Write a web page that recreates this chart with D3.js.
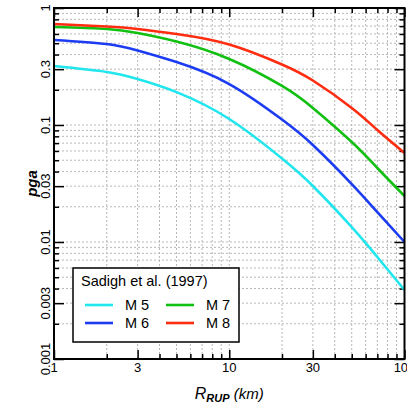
<!DOCTYPE html>
<html>
  <head>
    <meta charset="utf-8">
    <title>Sadigh et al. (1997)</title>
    <script src="https://d3js.org/d3.v7.min.js"></script>
    <style>
      body { margin: 0; background: #fff; }
      svg { font-family: "Liberation Sans", Arial, sans-serif; }
      .grid line { stroke: #b8b8b8; stroke-width: 1; stroke-dasharray: 2,2; }
      .tick line { stroke: #000; stroke-width: 1.5; }
      .curve { fill: none; stroke-width: 2.6; stroke-linejoin: round; }
    </style>
  </head>
  <body>
    <svg id="chart" width="407" height="409"></svg>
    <script>
      // distances (km) and pga values
      distances = [1, 2, 3, 5, 10, 20, 30, 50, 70, 100];
      pgaM5 = [0.319, 0.284, 0.247, 0.191, 0.1125, 0.0517, 0.0301, 0.0134, 0.00744, 0.00389];
      pgaM6 = [0.533, 0.492, 0.433, 0.345, 0.224, 0.1114, 0.0675, 0.0313, 0.0180, 0.0100];
      pgaM7 = [0.688, 0.662, 0.611, 0.517, 0.367, 0.216, 0.140, 0.0716, 0.0429, 0.0247];
      pgaM8 = [0.730, 0.695, 0.662, 0.600, 0.488, 0.329, 0.240, 0.140, 0.0906, 0.0577];
      seriesNames = ["M 5", "M 6", "M 7", "M 8"];
      seriesColors = ["#22e6ee", "#1c3cf2", "#12c012", "#ff2c10"];
      xMajor = [1, 3, 10, 30, 100];
      xMajorLabels = ["1", "3", "10", "30", "100"];
      yMajor = [1, 0.3, 0.1, 0.03, 0.01, 0.003, 0.001];
      yMajorLabels = ["1", "0.3", "0.1", "0.03", "0.01", "0.003", "0.001"];
      legendTitle = "Sadigh et al. (1997)";

      chart = d3.select("#chart");
      margin = { top: 8, right: 2, bottom: 50, left: 54 };
      width = 407; height = 409;

      x = d3.scaleLog().domain([1, 100]).range([margin.left, width - margin.right - 0.5]);
      y = d3.scaleLog().domain([0.001, 1]).range([height - margin.bottom, margin.top]);

      // all 1..9 per decade
      xMinor = d3.range(0, 2).flatMap(function(e) {
        return d3.range(1, 10).map(function(k) { return k * Math.pow(10, e); });
      }).filter(function(v) { return xMajor.indexOf(v) < 0; });
      yAll = d3.range(-3, 0).flatMap(function(e) {
        return d3.range(1, 10).map(function(k) { return +(k * Math.pow(10, e)).toPrecision(3); });
      });
      yMinor = yAll.filter(function(v) { return yMajor.indexOf(v) < 0; });

      // grid
      grid = chart.append("g").attr("class", "grid");
      grid.selectAll(".gx").data(xMinor.concat([3, 10, 30]))
        .enter().append("line")
          .attr("x1", function(d) { return x(d); }).attr("x2", function(d) { return x(d); })
          .attr("y1", y(1)).attr("y2", y(0.001));
      grid.selectAll(".gy").data(yAll.filter(function(v) { return v > 0.001; }))
        .enter().append("line")
          .attr("y1", function(d) { return y(d); }).attr("y2", function(d) { return y(d); })
          .attr("x1", x(1)).attr("x2", x(100));

      plotH = y(0.001) - y(1);
      plotW = x(100) - x(1);

      // inward ticks on every side
      function ticks(axis, values, size, tx, ty) {
        g = chart.append("g")
          .attr("transform", "translate(" + tx + "," + ty + ")")
          .call(axis.tickValues(values).tickSize(size).tickFormat(""));
        g.select(".domain").remove();
        return g;
      }
      ticks(d3.axisBottom(x), xMajor, -9, 0, y(0.001));
      ticks(d3.axisBottom(x), xMinor, -5, 0, y(0.001));
      ticks(d3.axisTop(x), xMajor, -9, 0, y(1));
      ticks(d3.axisTop(x), xMinor, -5, 0, y(1));
      ticks(d3.axisLeft(y), yMajor, -10, x(1), 0);
      ticks(d3.axisLeft(y), yMinor, -5, x(1), 0);
      ticks(d3.axisRight(y), yMajor, -10, x(100), 0);
      ticks(d3.axisRight(y), yMinor, -5, x(100), 0);

      // curves
      line = d3.line()
        .x(function(d) { return x(d[0]); })
        .y(function(d) { return y(d[1]); })
        .curve(d3.curveNatural);
      [pgaM5, pgaM6, pgaM7, pgaM8].forEach(function(vals, i) {
        chart.append("path")
          .attr("class", "curve")
          .attr("stroke", seriesColors[i])
          .attr("d", line(distances.map(function(r, j) { return [r, vals[j]]; })));
      });

      // frame
      chart.append("rect")
        .attr("x", x(1)).attr("y", y(1))
        .attr("width", plotW).attr("height", plotH)
        .attr("fill", "none").attr("stroke", "#000").attr("stroke-width", 2);

      // tick labels
      chart.selectAll(".xl").data(xMajor)
        .enter().append("text")
          .attr("x", function(d) { return x(d); })
          .attr("y", 372)
          .attr("text-anchor", "middle")
          .attr("font-size", 13)
          .text(function(d, i) { return xMajorLabels[i]; });
      chart.selectAll(".yl").data(yMajor)
        .enter().append("text")
          .attr("transform", function(d) { return "translate(50," + y(d) + ") rotate(-90)"; })
          .attr("text-anchor", "middle")
          .attr("font-size", 13)
          .text(function(d, i) { return yMajorLabels[i]; });

      // axis titles
      chart.append("text")
        .attr("transform", "translate(37," + (y(1) + plotH / 2) + ") rotate(-90)")
        .attr("text-anchor", "middle")
        .attr("font-size", 15)
        .attr("font-weight", "bold")
        .attr("font-style", "italic")
        .text("pga");
      xt = chart.append("text")
        .attr("x", x(1) + plotW / 2)
        .attr("y", 399)
        .attr("text-anchor", "middle")
        .attr("font-size", 15)
        .attr("font-style", "italic");
      xt.append("tspan").attr("font-size", 16).text("R");
      xt.append("tspan").attr("font-size", 11).attr("font-weight", "bold").attr("dy", 3).text("RUP");
      xt.append("tspan").attr("dy", -3).text(" (km)");

      // legend
      legend = chart.append("g").attr("transform", "translate(73,268)");
      legend.append("rect")
        .attr("width", 166).attr("height", 74)
        .attr("fill", "#fff").attr("stroke", "#000").attr("stroke-width", 1.5);
      legend.append("text")
        .attr("x", 8).attr("y", 18)
        .attr("font-size", 14.5)
        .text(legendTitle);
      seriesNames.forEach(function(name, i) {
        col = Math.floor(i / 2); row = i % 2;
        item = legend.append("g")
          .attr("transform", "translate(" + (12 + col * 81) + "," + (37 + row * 18) + ")");
        item.append("line")
          .attr("x1", 0).attr("x2", 28)
          .attr("stroke", seriesColors[i]).attr("stroke-width", 2.6);
        item.append("text")
          .attr("x", 40).attr("y", 5)
          .attr("font-size", 14.5)
          .text(name);
      });
    </script>
  </body>
</html>
